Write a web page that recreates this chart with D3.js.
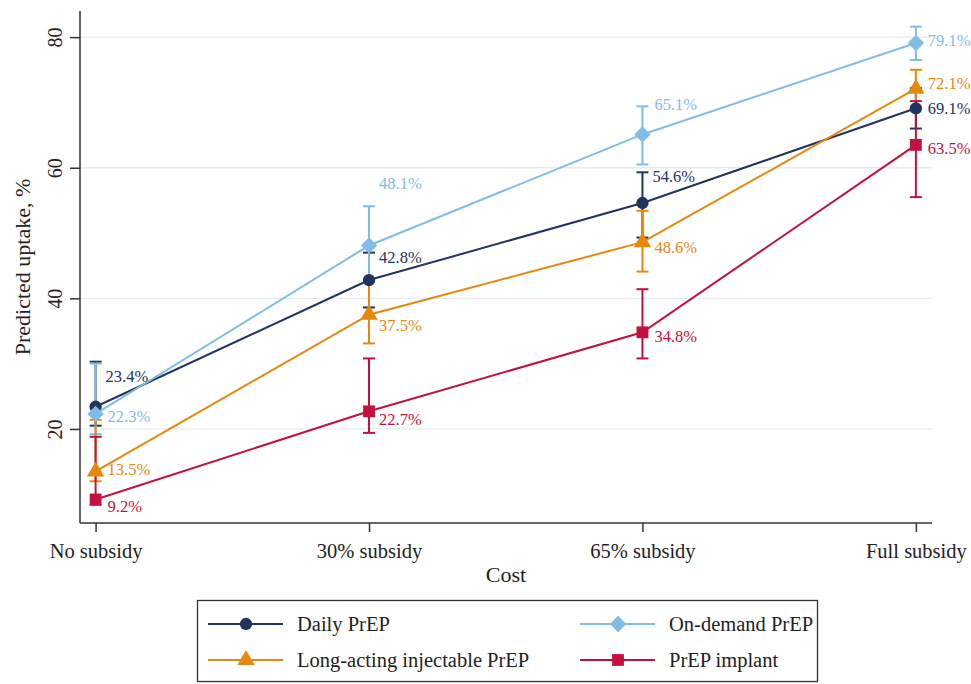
<!DOCTYPE html>
<html>
<head>
<meta charset="utf-8">
<script src="https://cdn.jsdelivr.net/npm/d3@7"></script>
<style>
  body { margin: 0; background: #fff; }
  text { font-family: "Liberation Serif", "Times New Roman", serif; }
</style>
</head>
<body>
<div id="chart"></div>
<script>
var width = 971;
var height = 684;

// data
var categories = ["No subsidy", "30% subsidy", "65% subsidy", "Full subsidy"];
var seriesNames = ["Daily PrEP", "On-demand PrEP", "Long-acting injectable PrEP", "PrEP implant"];
var dailyVals = [23.4, 42.8, 54.6, 69.1];
var dailyLo = [20.5, 38.6, 49.3, 66.0];
var dailyHi = [30.3, 47.0, 59.3, 72.2];
var ondemandVals = [22.3, 48.1, 65.1, 79.1];
var ondemandLo = [19.2, 42.5, 60.5, 76.5];
var ondemandHi = [30.0, 54.1, 69.4, 81.6];
var injectVals = [13.5, 37.5, 48.6, 72.1];
var injectLo = [12.0, 33.1, 44.1, 69.0];
var injectHi = [21.4, 42.6, 53.4, 75.0];
var implantVals = [9.2, 22.7, 34.8, 63.5];
var implantLo = [8.4, 19.4, 30.8, 55.5];
var implantHi = [18.8, 30.8, 41.4, 70.2];
var yTicks = [20, 40, 60, 80];

var colors = ["#22335e", "#7fbde6", "#e8870e", "#c5103f"];
var symbols = [d3.symbolCircle, d3.symbolDiamond2, d3.symbolTriangle, d3.symbolSquare];
var symSizes = [120, 170, 130, 140];
// label offsets (dx, dy) relative to point, per series per category
var labelOffsets = [
  [[10, -31], [10, -23], [10, -27], [12, 0]],
  [[12, 2], [10, -62], [12, -30], [12, -3]],
  [[12, -2], [10, 11], [12, 5], [12, -5]],
  [[12, 7], [10, 8], [12, 4], [12, 3]]
];

var series = [
  { name: seriesNames[0], vals: dailyVals, lo: dailyLo, hi: dailyHi },
  { name: seriesNames[1], vals: ondemandVals, lo: ondemandLo, hi: ondemandHi },
  { name: seriesNames[2], vals: injectVals, lo: injectLo, hi: injectHi },
  { name: seriesNames[3], vals: implantVals, lo: implantLo, hi: implantHi }
];

var mLeft = 80, mRight = 932, mTop = 11, mBottom = 523;

var x = d3.scaleLinear().domain([-0.057, 3.059]).range([mLeft, mRight]);
var y = d3.scaleLinear().domain([5.6, 84.0]).range([mBottom, mTop]);

var svg = d3.select("#chart")
  .append("svg")
  .attr("width", width)
  .attr("height", height)
  .attr("viewBox", [0, 0, width, height]);

// grid
svg.append("g")
  .selectAll("line")
  .data(yTicks)
  .join("line")
  .attr("x1", mLeft)
  .attr("x2", mRight)
  .attr("y1", d => y(d))
  .attr("y2", d => y(d))
  .attr("stroke", "#e3edf0")
  .attr("stroke-width", 1.3);

// axes
var yAxis = svg.append("g")
  .attr("transform", "translate(" + mLeft + ",0)")
  .call(d3.axisLeft(y).tickValues(yTicks).tickSize(10).tickPadding(6));
yAxis.selectAll("text")
  .attr("transform", "rotate(-90,-18,0)")
  .attr("x", -18)
  .attr("y", 0)
  .attr("dy", 0)
  .attr("text-anchor", "middle")
  .attr("font-size", 20)
  .attr("fill", "#222");
yAxis.select(".domain").attr("d", "M0," + mTop + "V" + mBottom).attr("stroke", "#333").attr("stroke-width", 1.5);
yAxis.selectAll(".tick line").attr("stroke", "#333").attr("stroke-width", 1.5);

var xAxis = svg.append("g")
  .attr("transform", "translate(0," + mBottom + ")")
  .call(d3.axisBottom(x).tickValues([0, 1, 2, 3]).tickFormat(i => categories[i]).tickSize(9).tickPadding(11));
xAxis.select(".domain").attr("d", "M" + mLeft + ",0H" + mRight).attr("stroke", "#333").attr("stroke-width", 1.5);
xAxis.selectAll(".tick line").attr("stroke", "#333").attr("stroke-width", 1.5);
xAxis.selectAll("text").attr("font-size", 20.5).attr("fill", "#222");

// axis titles
svg.append("text")
  .attr("x", (mLeft + mRight) / 2)
  .attr("y", 582)
  .attr("text-anchor", "middle")
  .attr("font-size", 22)
  .attr("fill", "#222")
  .text("Cost");
svg.append("text")
  .attr("transform", "translate(30," + ((mTop + mBottom) / 2) + ") rotate(-90)")
  .attr("text-anchor", "middle")
  .attr("font-size", 22)
  .attr("fill", "#222")
  .text("Predicted uptake, %");

// error bars
series.forEach(function(s, si) {
  var g = svg.append("g").attr("stroke", colors[si]).attr("stroke-width", 2).attr("fill", "none");
  s.vals.forEach(function(v, i) {
    g.append("line").attr("x1", x(i)).attr("x2", x(i)).attr("y1", y(s.lo[i])).attr("y2", y(s.hi[i]));
    g.append("line").attr("x1", x(i) - 6).attr("x2", x(i) + 6).attr("y1", y(s.lo[i])).attr("y2", y(s.lo[i]));
    g.append("line").attr("x1", x(i) - 6).attr("x2", x(i) + 6).attr("y1", y(s.hi[i])).attr("y2", y(s.hi[i]));
  });
});

// lines, markers
var line = d3.line().x((d, i) => x(i)).y(d => y(d));
series.forEach(function(s, si) {
  svg.append("path")
    .attr("d", line(s.vals))
    .attr("fill", "none")
    .attr("stroke", colors[si])
    .attr("stroke-width", 2);
  svg.append("g")
    .selectAll("path")
    .data(s.vals)
    .join("path")
    .attr("transform", (d, i) => "translate(" + x(i) + "," + y(d) + ")")
    .attr("d", d3.symbol().type(symbols[si]).size(symSizes[si]))
    .attr("fill", colors[si]);
});

// value labels
series.forEach(function(s, si) {
  svg.append("g")
    .selectAll("text")
    .data(s.vals)
    .join("text")
    .attr("x", (d, i) => x(i) + labelOffsets[si][i][0])
    .attr("y", (d, i) => y(d) + labelOffsets[si][i][1])
    .attr("dy", "0.35em")
    .attr("font-size", 16.5)
    .attr("fill", colors[si])
    .text(d => d.toFixed(1) + "%");
});

// legend
var legend = svg.append("g");
legend.append("rect")
  .attr("x", 197.5)
  .attr("y", 600.5)
  .attr("width", 620)
  .attr("height", 81)
  .attr("fill", "none")
  .attr("stroke", "#333")
  .attr("stroke-width", 1.3);
var legPos = [[208, 624], [580, 624], [208, 660], [580, 660]];
series.forEach(function(s, si) {
  var p = legPos[si];
  legend.append("line")
    .attr("x1", p[0]).attr("x2", p[0] + 75)
    .attr("y1", p[1]).attr("y2", p[1])
    .attr("stroke", colors[si]).attr("stroke-width", 2);
  legend.append("path")
    .attr("transform", "translate(" + (p[0] + 38) + "," + p[1] + ")")
    .attr("d", d3.symbol().type(symbols[si]).size(symSizes[si]))
    .attr("fill", colors[si]);
  legend.append("text")
    .attr("x", p[0] + 89)
    .attr("y", p[1])
    .attr("dy", "0.35em")
    .attr("font-size", 20.5)
    .attr("fill", "#222")
    .text(s.name);
});
</script>
</body>
</html>
